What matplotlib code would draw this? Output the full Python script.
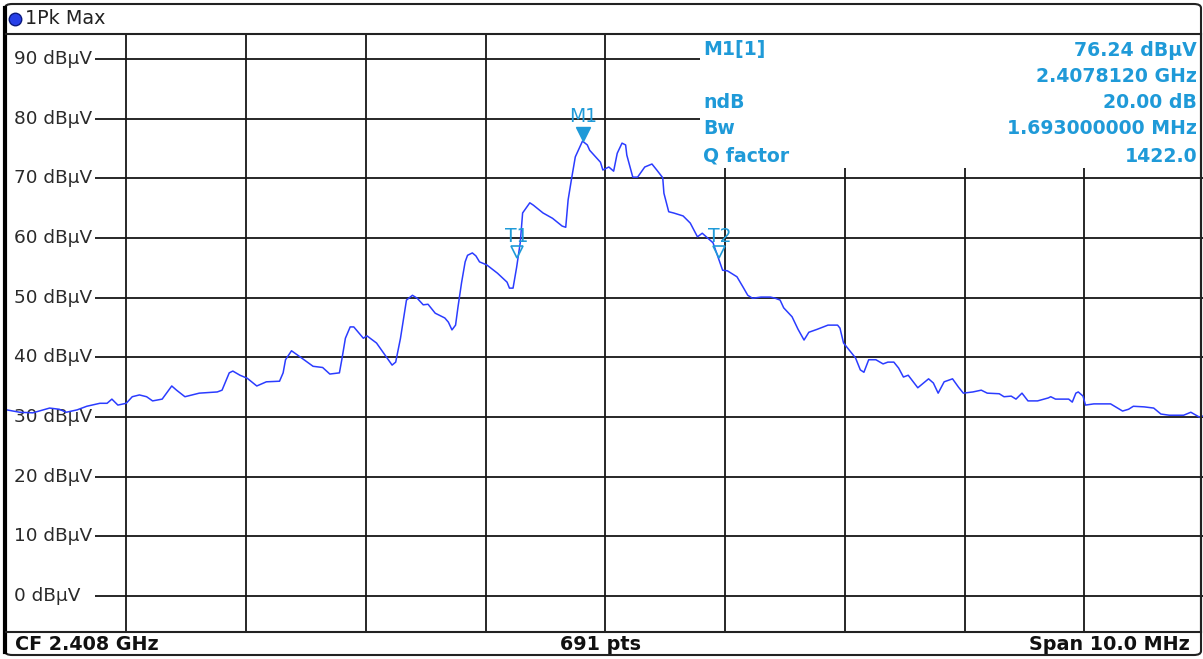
import matplotlib.pyplot as plt
from matplotlib.lines import Line2D
from matplotlib.patches import Rectangle, FancyBboxPatch
from matplotlib.transforms import offset_copy

# trace: offset from CF (MHz) and level (dBuV)
freq_mhz = [-5.00, -4.89, -4.78, -4.64, -4.56, -4.50, -4.41, -4.33, -4.22, -4.16,
            -4.12, -4.07, -4.00, -3.95, -3.89, -3.83, -3.78, -3.70, -3.62, -3.58,
            -3.51, -3.39, -3.24, -3.20, -3.14, -3.11, -3.05, -2.99, -2.91, -2.83,
            -2.72, -2.69, -2.67, -2.62, -2.55, -2.44, -2.36, -2.30, -2.22, -2.20,
            -2.17, -2.13, -2.10, -2.02, -1.99, -1.91, -1.84, -1.78, -1.75, -1.71,
            -1.66, -1.61, -1.57, -1.52, -1.48, -1.42, -1.34, -1.31, -1.28, -1.25,
            -1.23, -1.20, -1.17, -1.15, -1.11, -1.08, -1.05, -0.99, -0.90, -0.82,
            -0.80, -0.77, -0.74, -0.71, -0.69, -0.63, -0.60, -0.52, -0.44, -0.36,
            -0.33, -0.31, -0.28, -0.25, -0.19, -0.15, -0.13, -0.04, -0.02, 0.03,
            0.07, 0.10, 0.14, 0.17, 0.18, 0.23, 0.27, 0.33, 0.39, 0.43,
            0.48, 0.49, 0.53, 0.57, 0.65, 0.71, 0.77, 0.81, 0.90, 0.98,
            1.02, 1.10, 1.15, 1.19, 1.23, 1.30, 1.38, 1.42, 1.46, 1.49,
            1.56, 1.61, 1.66, 1.70, 1.77, 1.86, 1.94, 1.96, 1.99, 2.05,
            2.09, 2.13, 2.16, 2.20, 2.26, 2.32, 2.36, 2.41, 2.45, 2.49,
            2.53, 2.61, 2.70, 2.74, 2.78, 2.83, 2.90, 2.95, 2.99, 3.07,
            3.14, 3.19, 3.29, 3.33, 3.39, 3.43, 3.48, 3.53, 3.61, 3.70,
            3.72, 3.76, 3.87, 3.90, 3.93, 3.95, 3.99, 4.01, 4.08, 4.22,
            4.32, 4.37, 4.41, 4.50, 4.58, 4.64, 4.71, 4.83, 4.89, 4.96,
            5.00]
level_dbuv = [31.2, 30.8, 30.7, 31.5, 31.3, 30.8, 31.2, 31.8, 32.3, 32.3,
              33.0, 32.0, 32.3, 33.4, 33.7, 33.4, 32.7, 33.0, 35.2, 34.5,
              33.4, 34.0, 34.2, 34.5, 37.4, 37.7, 37.0, 36.5, 35.2, 35.9,
              36.0, 37.4, 39.6, 41.1, 40.1, 38.5, 38.3, 37.2, 37.4, 39.6,
              43.2, 45.1, 45.1, 43.2, 43.6, 42.4, 40.4, 38.7, 39.2, 43.2,
              49.6, 50.4, 49.9, 48.8, 48.9, 47.4, 46.6, 45.9, 44.6, 45.4,
              48.4, 52.5, 56.0, 57.1, 57.5, 57.0, 56.0, 55.5, 54.1, 52.6,
              51.6, 51.6, 55.1, 59.2, 64.2, 65.9, 65.5, 64.2, 63.3, 62.0,
              61.8, 66.4, 70.1, 73.6, 76.24, 75.6, 74.7, 72.7, 71.4, 71.9,
              71.2, 74.2, 75.9, 75.6, 73.9, 70.2, 70.2, 71.9, 72.4, 71.4,
              70.1, 67.5, 64.4, 64.2, 63.7, 62.5, 60.2, 60.8, 59.2, 54.6,
              54.5, 53.5, 51.8, 50.4, 49.9, 50.1, 50.1, 49.9, 49.6, 48.3,
              46.8, 44.7, 42.9, 44.2, 44.7, 45.4, 45.4, 44.9, 42.4, 40.9,
              39.9, 37.9, 37.5, 39.6, 39.6, 38.9, 39.2, 39.2, 38.2, 36.7,
              37.0, 34.9, 36.4, 35.7, 34.0, 35.9, 36.4, 35.0, 34.0, 34.2,
              34.5, 34.0, 33.9, 33.4, 33.5, 33.0, 34.0, 32.7, 32.7, 33.2,
              33.4, 33.0, 33.0, 32.5, 34.0, 34.2, 33.5, 32.0, 32.2, 32.2,
              31.0, 31.3, 31.8, 31.7, 31.5, 30.5, 30.3, 30.3, 30.8, 30.0,
              30.2]

# marker M1 and ndB temp markers T1 / T2
m1_freq, m1_level = -0.188, 76.24
ndb = 20.0
bw_mhz = 1.693
t1_freq = -0.74
t2_freq = t1_freq + bw_mhz

y_ticks = list(range(0, 100, 10))
y_labels = [f"{v} dBµV" for v in y_ticks]
x_grid = list(range(-4, 5))

info_labels = ["M1[1]", "", "ndB", "Bw", "Q factor"]
info_values = ["76.24 dBµV", "2.4078120 GHz", "20.00 dB", "1.693000000 MHz", "1422.0"]

W, H = 1203, 659
BLUE = "#1f9ad8"
TRACE = "#2b3cff"
GRID = "#161616"

fig = plt.figure(figsize=(W / 100, H / 100), dpi=100)
ax = fig.add_axes([6.5 / W, (H - 632) / H, 1197.5 / W, (632 - 34) / H])
ax.set_xlim(-5, 5)
ax.set_ylim(-6.03, 94.19)
ax.set_xticks([])
ax.set_yticks([])
for s in ax.spines.values():
    s.set_visible(False)

# grid
for v in y_ticks:
    ax.axhline(v, color=GRID, lw=1.3, zorder=1)
for x in x_grid:
    ax.axvline(x, color=GRID, lw=1.3, zorder=1)

# blank areas for level labels and marker table
ax.add_patch(Rectangle((0, 0), 88.5 / 1197.5, 1, transform=ax.transAxes,
                       fc="white", ec="none", zorder=2))
ax.add_patch(Rectangle((693.5 / 1197.5, (632 - 168) / 598), 1, 1, transform=ax.transAxes,
                       fc="white", ec="none", zorder=2))

for v, lab in zip(y_ticks, y_labels):
    ax.text(-5 + 7.5 / 119.75, v, lab, ha="left", va="center", fontsize=13.3,
            color="#2a2a2a", zorder=3)

ax.plot(freq_mhz, level_dbuv, color=TRACE, lw=1.1, zorder=5)

# markers
up7 = offset_copy(ax.transData, fig=fig, x=0, y=7, units="dots")
up8 = offset_copy(ax.transData, fig=fig, x=0, y=8, units="dots")
ax.plot([m1_freq], [m1_level], marker="v", ms=10, color=BLUE, transform=up7, zorder=6)
ax.annotate("M1", (m1_freq, m1_level), xytext=(0, 25), textcoords="offset pixels",
            ha="center", va="center", color=BLUE, fontsize=13.5, zorder=6)
for name, f in [("T1", t1_freq), ("T2", t2_freq)]:
    ax.plot([f], [m1_level - ndb], marker="v", ms=9, mfc="none", mec=BLUE, mew=1.2,
            transform=up8, zorder=6)
    ax.annotate(name, (f, m1_level - ndb), xytext=(0, 24), textcoords="offset pixels",
                ha="center", va="center", color=BLUE, fontsize=13.5, zorder=6)

# marker table
rows_y = [50, 76, 103, 129, 156]
for y, lab, val in zip(rows_y, info_labels, info_values):
    fig.text(703 / W, 1 - y / H, lab, ha="left", va="center", color=BLUE,
             fontsize=13.6, fontweight="bold")
    fig.text(1197 / W, 1 - y / H, val, ha="right", va="center", color=BLUE,
             fontsize=13.6, fontweight="bold")

# frame, header and footer
fig.add_artist(FancyBboxPatch((5 / W, 1 - 655 / H), 1196 / W, 651 / H,
                              boxstyle="round,pad=0,rounding_size=0.006",
                              transform=fig.transFigure, fill=False, ec="#222222", lw=1.5))
fig.add_artist(Line2D([4.5 / W, 4.5 / W], [1 - 8 / H, 1 - 652 / H], color="black", lw=3,
                      transform=fig.transFigure))
for y in (34, 632):
    fig.add_artist(Line2D([6 / W, 1201 / W], [1 - y / H, 1 - y / H], color="#222222", lw=1.5,
                          transform=fig.transFigure))
fig.add_artist(Line2D([1201 / W, 1201 / W], [1 - 34 / H, 1 - 632 / H], color="#222222", lw=1.5,
                      transform=fig.transFigure))

fig.add_artist(Line2D([15 / W], [1 - 19 / H], marker="o", ms=9, mfc="#2740e8", mec="#0b1a80",
                      mew=1, transform=fig.transFigure))
fig.text(25 / W, 1 - 19 / H, "1Pk Max", ha="left", va="center", fontsize=13.8, color="#222222")

fig.text(15 / W, 1 - 645 / H, "CF 2.408 GHz", ha="left", va="center", fontsize=13.8,
         fontweight="bold", color="#111111")
fig.text(600 / W, 1 - 645 / H, "691 pts", ha="center", va="center", fontsize=13.8,
         fontweight="bold", color="#111111")
fig.text(1190 / W, 1 - 645 / H, "Span 10.0 MHz", ha="right", va="center", fontsize=13.8,
         fontweight="bold", color="#111111")

fig.savefig("out.png", dpi=100)
